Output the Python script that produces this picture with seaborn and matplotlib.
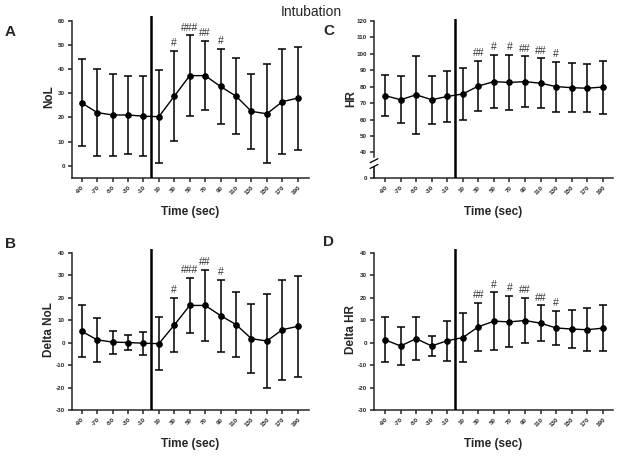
import numpy as np
import pandas as pd
import seaborn as sns
import matplotlib.pyplot as plt

# Data (mean and SD per time point)
times = [-90, -70, -50, -30, -10, 10, 30, 50, 70, 90, 110, 130, 150, 170, 190]
time_labels = [str(t) for t in times]

nol_mean = [26, 22, 21, 21, 20.5, 20.3, 28.8, 37.3, 37.3, 32.8, 28.8, 22.5, 21.5, 26.5, 28]
nol_sd = [18, 18, 16.8, 16, 16.5, 19.2, 18.7, 16.7, 14.4, 15.5, 15.7, 15.5, 20.5, 21.8, 21.3]

hr_mean = [74.5, 72, 75, 72, 74, 75.5, 80.3, 83, 82.5, 83, 82, 80, 79.3, 79, 79.7]
hr_sd = [12.5, 14.2, 23.6, 14.7, 15.3, 15.6, 15.2, 16.2, 16.7, 15.3, 15.1, 15.2, 14.9, 14.7, 16.1]

dnol_mean = [5, 1.2, 0.2, 0, -0.3, -0.5, 7.8, 16.5, 16.5, 12, 8, 1.7, 0.7, 5.7, 7.2]
dnol_sd = [11.6, 9.7, 5.1, 3.2, 5.2, 11.8, 12.2, 12.3, 15.8, 16, 14.3, 15.4, 20.8, 22.3, 22.5]

dhr_mean = [1.2, -1.5, 1.7, -1.5, 0.8, 2.2, 7, 9.5, 9.2, 9.8, 8.6, 6.5, 6, 5.7, 6.4]
dhr_sd = [10, 8.5, 9.6, 4.3, 8.8, 10.8, 10.7, 12.8, 11.4, 10, 7.9, 7.5, 8.6, 9.6, 10.2]

nol_marks = {"30": "#", "50": "###", "70": "##", "90": "#"}
hr_marks = {"30": "##", "50": "#", "70": "#", "90": "##", "110": "##", "130": "#"}

W, H = 622, 463

sns.set_style("ticks")
plt.rcParams["font.family"] = ["Liberation Sans", "DejaVu Sans"]
plt.rcParams["axes.linewidth"] = 1.1
plt.rcParams["axes.unicode_minus"] = False


def px_rect(left, top, right, bottom):
    return [left / W, 1 - bottom / H, (right - left) / W, (bottom - top) / H]


def draw_panel(ax, mean, sd, marks, ylabel, rect_px, xlim, ylim, yticks, ytick_labels=None):
    df = pd.DataFrame({"time": time_labels, "value": mean, "sd": sd})
    pos = np.arange(len(df))
    ax.errorbar(pos, df["value"], yerr=df["sd"], fmt="none", ecolor="black",
                elinewidth=1.1, capsize=3, capthick=1.1, zorder=2)
    sns.pointplot(data=df, x="time", y="value", order=time_labels, color="black",
                  markers="o", markersize=4, linewidth=1, errorbar=None, ax=ax)
    # intubation marker between -10 and 10
    ax.axvline(4.5, color="black", lw=1.8, zorder=3)

    for t, txt in marks.items():
        i = time_labels.index(t)
        ax.annotate(txt, (i, df["value"][i] + df["sd"][i]), xytext=(0, 2),
                    textcoords="offset points", ha="center", va="bottom",
                    fontsize=7.5, color="#333333")

    ax.set_xlim(*xlim)
    ax.set_ylim(*ylim)
    ax.set_yticks(yticks)
    if ytick_labels is not None:
        ax.set_yticklabels(ytick_labels)
    ax.set_xticks(pos)
    ax.set_xticklabels(time_labels, rotation=45, ha="right", rotation_mode="anchor")
    ax.tick_params(axis="both", labelsize=4.5, length=3, width=1.1, pad=2)
    for lab in ax.get_xticklabels() + ax.get_yticklabels():
        lab.set_fontweight("bold")
    sns.despine(ax=ax)

    left, top, right, bottom = rect_px
    ax.set_xlabel("Time (sec)", fontsize=8.5, fontweight="bold")
    ax.xaxis.set_label_coords(0.5, -34 / (bottom - top))
    ax.xaxis.label.set_va("center")
    ax.set_ylabel(ylabel, fontsize=8.5, fontweight="bold")
    ax.yaxis.set_label_coords(-23 / (right - left), 0.5)
    ax.yaxis.label.set_va("center")


fig = plt.figure(figsize=(W / 100, H / 100), dpi=100)

rect_a = (72, 16, 309, 178)
ax_a = fig.add_axes(px_rect(*rect_a))
draw_panel(ax_a, nol_mean, nol_sd, nol_marks, "NoL", rect_a,
           (-0.63, 14.73), (-5.1, 62.0), range(0, 61, 10))
ax_a.spines["left"].set_bounds(-5.1, 60)

rect_c = (374, 19, 613, 178)
ax_c = fig.add_axes(px_rect(*rect_c))
c_floor = 24.5  # where the broken axis shows 0
draw_panel(ax_c, hr_mean, hr_sd, hr_marks, "HR", rect_c,
           (-0.71, 14.66), (c_floor, 121), [c_floor] + list(range(40, 121, 10)),
           ["0"] + [str(v) for v in range(40, 121, 10)])
ax_c.spines["left"].set_bounds(37.5, 120)
x0 = ax_c.get_xlim()[0]
ax_c.plot([x0, x0], [c_floor, 31], color="black", lw=1.1, clip_on=False)
for yb in (31.5, 35):
    ax_c.plot([x0 - 0.25, x0 + 0.25], [yb - 1.2, yb + 1.2], color="black", lw=0.9, clip_on=False)

rect_b = (72, 249, 309, 410)
ax_b = fig.add_axes(px_rect(*rect_b))
draw_panel(ax_b, dnol_mean, dnol_sd, nol_marks, "Delta NoL", rect_b,
           (-0.63, 14.73), (-30, 41.6), range(-30, 41, 10))
ax_b.spines["left"].set_bounds(-30, 40)

rect_d = (374, 249, 613, 410)
ax_d = fig.add_axes(px_rect(*rect_d))
draw_panel(ax_d, dhr_mean, dhr_sd, hr_marks, "Delta HR", rect_d,
           (-0.71, 14.66), (-30, 41.6), range(-30, 41, 10))
ax_d.spines["left"].set_bounds(-30, 40)

fig.text(311 / W, 1 - 12 / H, "Intubation", ha="center", va="center", fontsize=10)
for letter, (lx, ly) in {"A": (10, 32), "C": (329, 31), "B": (10, 244), "D": (329, 242)}.items():
    fig.text(lx / W, 1 - ly / H, letter, ha="center", va="center", fontsize=11, fontweight="bold")

fig.savefig("out.png", dpi=100, facecolor="white")
